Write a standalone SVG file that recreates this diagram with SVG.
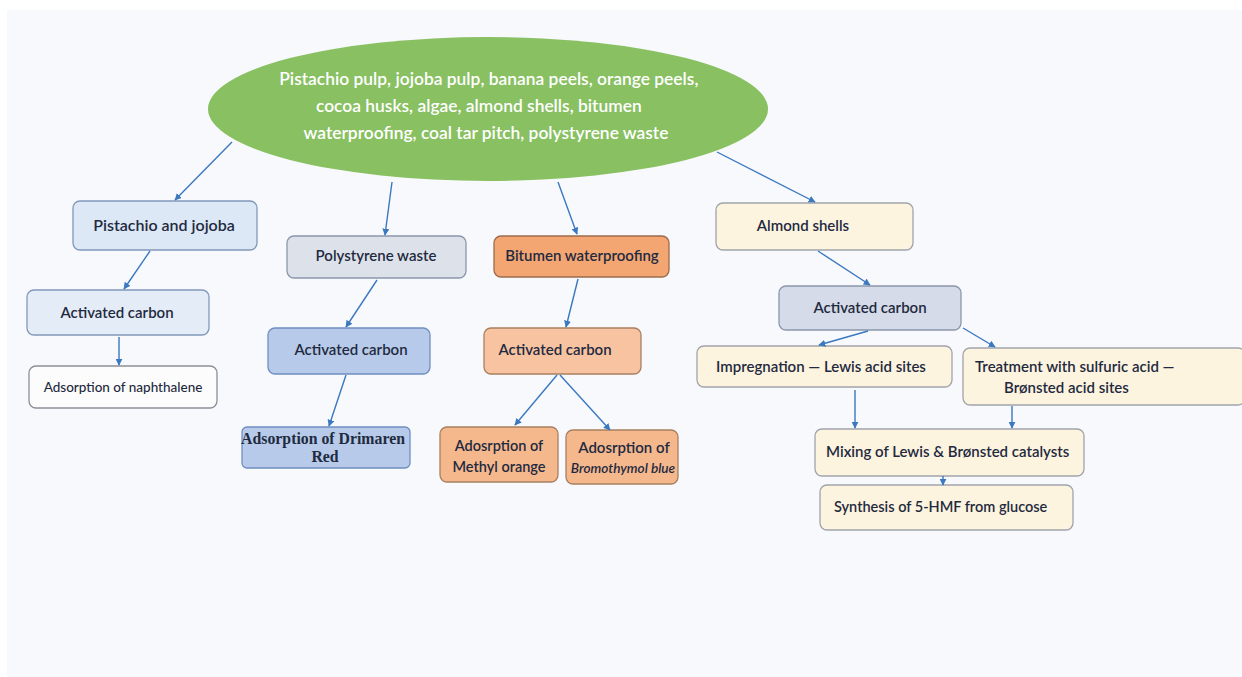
<svg xmlns="http://www.w3.org/2000/svg" width="1242" height="677" viewBox="0 0 1242 677">
<defs>
<marker id="ah" viewBox="0 0 10 10" refX="9" refY="5" markerWidth="7" markerHeight="7" orient="auto" markerUnits="userSpaceOnUse">
<path d="M0,0 L10,5 L0,10 z" fill="#3a78c0"/>
</marker>
</defs>
<style>
.lbl{font-family:Lato,"Open Sans","Liberation Sans",sans-serif;font-size:15px;font-weight:600;fill:#1f2a40}
.sm{font-size:13.5px;font-weight:500}
.box{stroke-width:1.3}
.conn line{stroke:#3a78c0;stroke-width:1.4;marker-end:url(#ah)}
</style>
<rect x="0" y="0" width="1242" height="677" fill="#ffffff"/>
<rect x="7" y="10" width="1235" height="667" fill="#f8f9fd"/>

<g id="root">
<ellipse cx="488" cy="109" rx="280" ry="72" fill="#88c062"/>
<text font-family="Lato,'Open Sans',sans-serif" font-size="17.4" fill="#ffffff" text-anchor="middle" font-weight="600">
<tspan x="491" y="85">Pistachio pulp, jojoba pulp, banana peels, orange peels,</tspan>
<tspan x="481" y="112">cocoa husks, algae, almond shells, bitumen</tspan>
<tspan x="486" y="139">waterproofing, coal tar pitch, polystyrene waste</tspan>
</text>
</g>

<g id="pistachio">
<rect class="box" x="73" y="201" width="184" height="49" rx="7" fill="#dde8f6" stroke="#8198ba"/>
<text class="lbl" x="164" y="231" text-anchor="middle" style="font-size:16px">Pistachio and jojoba</text>
</g>
<g id="ac1">
<rect class="box" x="27" y="290" width="182" height="45" rx="7" fill="#e4ecf7" stroke="#8198ba"/>
<text class="lbl" x="117" y="318" text-anchor="middle">Activated carbon</text>
</g>
<g id="naph">
<rect class="box" x="29" y="366" width="188" height="42" rx="7" fill="#fcfcfc" stroke="#8a8f98"/>
<text class="lbl sm" x="123" y="392" text-anchor="middle">Adsorption of naphthalene</text>
</g>

<g id="poly">
<rect class="box" x="287" y="236" width="179" height="42" rx="7" fill="#dde2ea" stroke="#8b97aa"/>
<text class="lbl" x="376" y="261" text-anchor="middle">Polystyrene waste</text>
</g>
<g id="ac2">
<rect class="box" x="268" y="328" width="162" height="46" rx="7" fill="#b7caea" stroke="#6f8fc0"/>
<text class="lbl" x="351" y="355" text-anchor="middle">Activated carbon</text>
</g>
<g id="drimaren">
<rect class="box" x="242" y="427" width="168" height="41" rx="5" fill="#b7caea" stroke="#6f8fc0"/>
<text font-family="'Liberation Serif',serif" font-size="15.8" font-weight="bold" fill="#1f2a40" text-anchor="middle">
<tspan x="325" y="444">Adsorption of Drimaren</tspan>
<tspan x="325" y="462">Red</tspan>
</text>
</g>

<g id="bitumen">
<rect class="box" x="494" y="236" width="175" height="41" rx="7" fill="#f3a672" stroke="#9c6b4c"/>
<text class="lbl" x="582" y="261" text-anchor="middle">Bitumen waterproofing</text>
</g>
<g id="ac3">
<rect class="box" x="484" y="328" width="157" height="46" rx="7" fill="#f8c3a0" stroke="#a88060"/>
<text class="lbl" x="555" y="355" text-anchor="middle">Activated carbon</text>
</g>
<g id="methyl">
<rect class="box" x="440" y="427" width="118" height="55" rx="7" fill="#f5b88d" stroke="#a88060"/>
<text class="lbl" text-anchor="middle" style="font-size:14.5px"><tspan x="499" y="451">Adosrption of</tspan><tspan x="499" y="472">Methyl orange</tspan></text>
</g>
<g id="bromo">
<rect class="box" x="566" y="430" width="112" height="54" rx="7" fill="#f5b88d" stroke="#a88060"/>
<text class="lbl" text-anchor="middle"><tspan x="624" y="453">Adosrption of</tspan><tspan x="623" y="473" style="font-style:italic;font-size:13.6px">Bromothymol blue</tspan></text>
</g>

<g id="almond">
<rect class="box" x="716" y="203" width="197" height="47" rx="7" fill="#fdf4e0" stroke="#a0a4ab"/>
<text class="lbl" x="803" y="231" text-anchor="middle">Almond shells</text>
</g>
<g id="ac4">
<rect class="box" x="779" y="286" width="182" height="44" rx="7" fill="#d5dbe8" stroke="#8b97aa"/>
<text class="lbl" x="870" y="313" text-anchor="middle">Activated carbon</text>
</g>
<g id="lewis">
<rect class="box" x="697" y="346" width="255" height="41" rx="7" fill="#fdf4df" stroke="#a0a4ab"/>
<text class="lbl" x="821" y="372" text-anchor="middle">Impregnation — Lewis acid sites</text>
</g>
<g id="bronsted">
<rect class="box" x="963" y="348" width="282" height="57" rx="7" fill="#fdf4df" stroke="#a0a4ab"/>
<text class="lbl"><tspan x="975" y="372">Treatment with sulfuric acid —</tspan><tspan x="1004" y="393">Brønsted acid sites</tspan></text>
</g>
<g id="mixing">
<rect class="box" x="815" y="429" width="269" height="47" rx="7" fill="#fdf4df" stroke="#a0a4ab"/>
<text class="lbl" x="826" y="457">Mixing of Lewis &amp; Brønsted catalysts</text>
</g>
<g id="synthesis">
<rect class="box" x="820" y="485" width="253" height="45" rx="7" fill="#fdf4df" stroke="#a0a4ab"/>
<text class="lbl" x="834" y="512" style="font-size:14.5px">Synthesis of 5-HMF from glucose</text>
</g>

<g id="connectors" class="conn">
<line x1="232" y1="142" x2="175" y2="200"/>
<line x1="392" y1="182" x2="385" y2="235"/>
<line x1="558" y1="182" x2="577" y2="234"/>
<line x1="717" y1="152" x2="815" y2="202"/>
<line x1="150" y1="251" x2="124" y2="289"/>
<line x1="119" y1="337" x2="119" y2="365"/>
<line x1="377" y1="280" x2="346" y2="327"/>
<line x1="346" y1="375" x2="329" y2="426"/>
<line x1="578" y1="279" x2="566" y2="327"/>
<line x1="557" y1="375" x2="515" y2="425"/>
<line x1="560" y1="375" x2="610" y2="430"/>
<line x1="818" y1="251" x2="870" y2="285"/>
<line x1="868" y1="331" x2="819" y2="345"/>
<line x1="963" y1="328" x2="995" y2="347"/>
<line x1="855" y1="390" x2="855" y2="428"/>
<line x1="1012" y1="406" x2="1012" y2="428"/>
<line x1="943" y1="476" x2="943" y2="485"/>
</g>
</svg>
